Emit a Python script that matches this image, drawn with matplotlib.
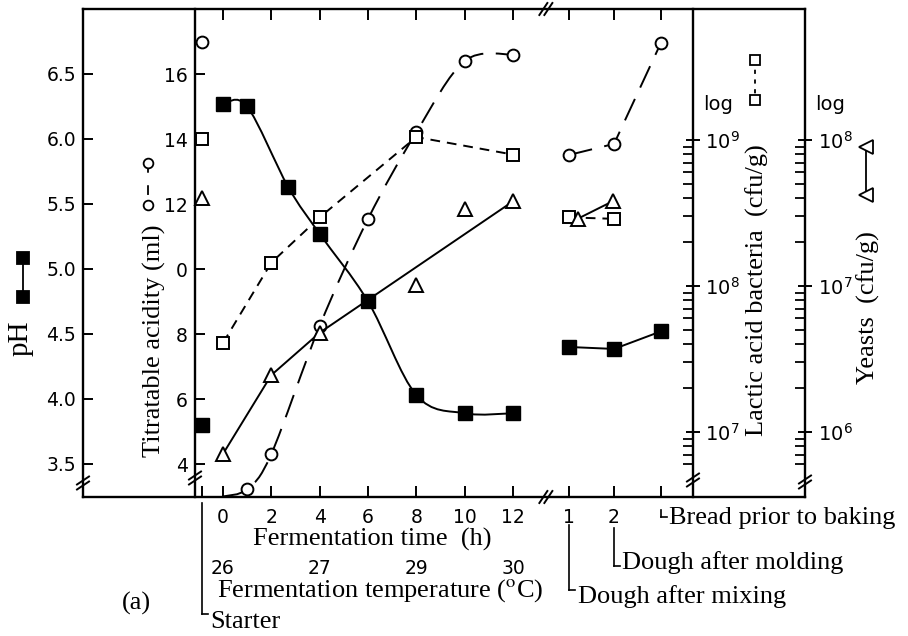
import numpy as np
import matplotlib
matplotlib.use("Agg")
import matplotlib.pyplot as plt
from matplotlib.path import Path
from matplotlib.patches import PathPatch
from matplotlib.lines import Line2D
from matplotlib import transforms, ticker

plt.rcParams["lines.scale_dashes"] = False
plt.rcParams["font.family"] = ["DejaVu Sans"]
plt.rcParams["mathtext.fontset"] = "dejavusans"

SERIF = "Liberation Serif"
SANS = "DejaVu Sans"
TITLE_SIZE = 19

# ---------------- x positions (fermentation time, h) ----------------
time_ticks = [0, 2, 4, 6, 8, 10, 12]
time_labels = ["0", "2", "4", "6", "8", "10", "12"]
starter_pos = -0.87
stage_pos = [14.32, 16.18, 18.12]          # after mixing, after molding, bread
stage_labels = ["1", "2", ""]
temp_times = [0, 4, 8, 12]
temp_labels = ["26", "27", "29", "30"]

# ---------------- pH (filled squares) ----------------
ph_starter = 3.80
ph_time = [0, 1, 2.7, 4, 6, 8, 10, 12]
ph_vals = [6.27, 6.25, 5.63, 5.27, 4.75, 4.03, 3.89, 3.89]
ph_stage = [4.40, 4.385, 4.52]
ph_ticks = [3.5, 4.0, 4.5, 5.0, 5.5, 6.0, 6.5]
ph_ticklabels = ["3.5", "4.0", "4.5", "5.0", "5.5", "6.0", "6.5"]

# ---------------- titratable acidity, ml (open circles) ----------------
ta_starter = 16.98
ta_time = [0, 1, 2, 4, 6, 8, 10, 12]
ta_vals = [3.0, 3.23, 4.31, 8.25, 11.54, 14.21, 16.40, 16.60]
ta_stage = [13.51, 13.85, 16.96]
ta_ticks = [4, 6, 8, 10, 12, 14, 16]
ta_ticklabels = ["4", "6", "8", "0", "12", "14", "16"]

# ---------------- lactic acid bacteria, log10 cfu/g (open squares) ----------------
lab_starter = 9.01
lab_time = [0, 2, 4, 8, 12]
lab_log = [7.61, 8.16, 8.47, 9.02, 8.90]
lab_stage = [8.47, 8.46]

# ---------------- yeasts, log10 cfu/g (open triangles) ----------------
yeast_starter = 7.60
yeast_time = [0, 2, 4, 8, 10, 12]
yeast_log = [5.85, 6.39, 6.68, 7.01, 7.53, 7.58]
yeast_line_idx = [0, 1, 2, 5]               # points joined by the trend line
yeast_stage = [7.46, 7.58]

W, H = 908, 636
def fx(px):
    return px / W
def fy(py):
    return 1 - py / H

fig = plt.figure(figsize=(W / 100, H / 100), dpi=100)
ax = fig.add_axes([fx(83), fy(497), fx(805) - fx(83), fy(9) - fy(497)])

XLIM = (-5.792, 24.08)
TA_SPINE = -1.158
LAB_SPINE = 19.445
BREAK_X = 13.40

LW_SPINE = 1.7
LW_LINE = 1.4

ax.set_xlim(*XLIM)
ax.set_ylim(3.246, 7.0)

ax_ta = ax.twinx()
ax_ta.set_ylim(2.985, 18.0)
ax_lab = ax.twinx()
ax_lab.set_yscale("log")
ax_lab.set_ylim(10 ** 6.555, 10 ** 9.897)
ax_y = ax.twinx()
ax_y.set_yscale("log")
ax_y.set_ylim(10 ** 5.555, 10 ** 8.897)

# ---------------- spines ----------------
for a in (ax, ax_ta, ax_lab, ax_y):
    for s in a.spines.values():
        s.set_visible(False)
        s.set_linewidth(LW_SPINE)
for s in ("left", "top", "bottom"):
    ax.spines[s].set_visible(True)
ax_ta.spines["left"].set_visible(True)
ax_ta.spines["left"].set_position(("data", TA_SPINE))
ax_lab.spines["right"].set_visible(True)
ax_lab.spines["right"].set_position(("data", LAB_SPINE))
ax_y.spines["right"].set_visible(True)

# ---------------- ticks ----------------
ax.set_yticks(ph_ticks)
ax.set_yticklabels(ph_ticklabels)
ax.tick_params(axis="y", direction="in", length=7, width=1.4, labelsize=13.5, pad=5)

ax.set_xticks(time_ticks + stage_pos)
ax.set_xticklabels(time_labels + stage_labels)
ax.set_xticks([starter_pos], minor=True)
ax.tick_params(axis="x", which="both", direction="in", length=8, width=1.4,
               top=True, labelsize=13.5, pad=8)
ax.tick_params(axis="x", which="minor", top=False, labelbottom=False)

ax_ta.yaxis.set_ticks_position("left")
ax_ta.set_yticks(ta_ticks)
ax_ta.set_yticklabels(ta_ticklabels)
ax_ta.tick_params(axis="y", direction="in", length=7, width=1.4, labelsize=13.5, pad=5,
                  left=True, right=False, labelleft=True, labelright=False)

def log_ticks(a, lo_exp, majors):
    a.yaxis.set_major_locator(ticker.FixedLocator([10.0 ** e for e in majors]))
    minors = [k * 10.0 ** e for e in range(lo_exp, majors[-1]) for k in range(2, 10)
              if k * 10.0 ** e >= 6 * 10.0 ** lo_exp]
    a.yaxis.set_minor_locator(ticker.FixedLocator(minors))
    a.yaxis.set_major_formatter(ticker.FuncFormatter(
        lambda v, p: r"$10^{%d}$" % int(round(np.log10(v)))))
    a.yaxis.set_minor_formatter(ticker.NullFormatter())
    a.tick_params(axis="y", which="major", direction="inout", length=10, width=1.4,
                  labelsize=14, pad=4)
    a.tick_params(axis="y", which="minor", direction="in", length=7, width=1.3)

log_ticks(ax_lab, 6, [7, 8, 9])
log_ticks(ax_y, 5, [6, 7, 8])

# ---------------- data ----------------
def smooth_path(xs, ys):
    pts = np.column_stack([xs, ys]).astype(float)
    ext = np.vstack([pts[0], pts, pts[-1]])
    verts, codes = [pts[0]], [Path.MOVETO]
    for i in range(len(pts) - 1):
        p0, p1, p2, p3 = ext[i], ext[i + 1], ext[i + 2], ext[i + 3]
        verts += [p1 + (p2 - p0) / 6, p2 - (p3 - p1) / 6, p2]
        codes += [Path.CURVE4] * 3
    return Path(verts, codes)

LONG_DASH = (0, (17, 9))
SHORT_DASH = (0, (7, 5))

sq = dict(marker="s", ms=9.5, mfc="black", mec="black", ls="none", zorder=5)
ci = dict(marker="o", ms=8.5, mfc="white", mec="black", mew=1.4, ls="none", zorder=5)
osq = dict(marker="s", ms=8.5, mfc="white", mec="black", mew=1.4, ls="none", zorder=5)
tri = dict(marker="^", ms=10, mfc="white", mec="black", mew=1.4, ls="none", zorder=5)

# pH
ax.add_patch(PathPatch(smooth_path(ph_time, ph_vals), fill=False, lw=LW_LINE,
                       ec="black", zorder=3))
ax.plot(stage_pos, ph_stage, color="black", lw=LW_LINE, zorder=3)
ax.plot(ph_time, ph_vals, **sq)
ax.plot(stage_pos, ph_stage, **sq)
ax.plot([starter_pos], [ph_starter], **sq)

# titratable acidity
ax_ta.add_patch(PathPatch(smooth_path(ta_time, ta_vals), fill=False, lw=LW_LINE,
                          ec="black", ls=LONG_DASH, zorder=3))
ax_ta.plot(stage_pos, ta_stage, color="black", lw=LW_LINE, ls=LONG_DASH, zorder=3)
ax_ta.plot(ta_time[1:], ta_vals[1:], **ci)
ax_ta.plot(stage_pos, ta_stage, **ci)
ax_ta.plot([starter_pos], [ta_starter], **ci)

# lactic acid bacteria
lab_t = np.array(lab_time)
lab_v = 10.0 ** np.array(lab_log)
ax_lab.plot(lab_t, lab_v, color="black", lw=LW_LINE, ls=SHORT_DASH, zorder=3)
ax_lab.plot(stage_pos[:2], 10.0 ** np.array(lab_stage), color="black", lw=LW_LINE,
            ls=SHORT_DASH, zorder=3)
ax_lab.plot(lab_t, lab_v, **osq)
ax_lab.plot(stage_pos[:2], 10.0 ** np.array(lab_stage), **osq)
ax_lab.plot([starter_pos], [10.0 ** lab_starter], **osq)

# yeasts
yt = np.array(yeast_time)
yv = 10.0 ** np.array(yeast_log)
yeast_stage_pos = [stage_pos[0] + 0.35, stage_pos[1] - 0.06]
ax_y.plot(yt[yeast_line_idx], yv[yeast_line_idx], color="black", lw=LW_LINE, zorder=3)
ax_y.plot(yeast_stage_pos, 10.0 ** np.array(yeast_stage), color="black", lw=LW_LINE, zorder=3)
ax_y.plot(yt, yv, **tri)
ax_y.plot(yeast_stage_pos, 10.0 ** np.array(yeast_stage), **tri)
ax_y.plot([starter_pos], [10.0 ** yeast_starter], **tri)

# ---------------- axis break marks ----------------
ident = transforms.IdentityTransform()
def break_mark(xd, yd, vertical_spine):
    for off in (-2.5, 2.5):
        if vertical_spine:
            xs = [xd - 6, xd + 6]
            ys = [yd - 4 + off, yd + 4 + off]
        else:
            xs = [xd - 5 + off, xd + 3 + off]
            ys = [yd - 6, yd + 6]
        fig.add_artist(Line2D(xs, ys, color="black", lw=1.4, transform=ident))

def disp(a, x, ypx):
    px = a.transData.transform((x, 1))[0]
    return px, H - ypx

break_mark(*disp(ax, XLIM[0], 483), True)
break_mark(*disp(ax, TA_SPINE, 478), True)
break_mark(*disp(ax, LAB_SPINE, 480), True)
break_mark(*disp(ax, XLIM[1], 482), True)
break_mark(*disp(ax, BREAK_X, 9), False)
break_mark(*disp(ax, BREAK_X, 497), False)

# ---------------- key symbols beside the axis titles ----------------
def key(xpx, ys, marker, ms, mfc, ls):
    fig.add_artist(Line2D([fx(xpx)] * 2, [fy(ys[0]), fy(ys[1])], color="black",
                          lw=1.3, ls=ls, transform=fig.transFigure))
    fig.add_artist(Line2D([fx(xpx)] * 2, [fy(ys[0]), fy(ys[1])], marker=marker, ms=ms,
                          mfc=mfc, mec="black", mew=1.3, ls="none",
                          transform=fig.transFigure))

key(23, (258, 297), "s", 8, "black", "-")
key(148, (163, 205), "o", 7, "white", (0, (7, 9)))
key(755, (60, 100), "s", 6.5, "white", (0, (3, 4)))
key(866, (147, 195), "<", 9.5, "white", "-")

# ---------------- axis titles ----------------
fig.text(fx(21), fy(338), "pH", family=SERIF, size=21, rotation=90,
         ha="center", va="center")
fig.text(fx(154), fy(341), "Titratable acidity (ml)", family=SERIF, size=TITLE_SIZE,
         rotation=90, ha="center", va="center")
fig.text(fx(757), fy(290), "Lactic acid bacteria  (cfu/g)", family=SERIF,
         size=TITLE_SIZE, rotation=90, ha="center", va="center")
fig.text(fx(868), fy(308), "Yeasts  (cfu/g)", family=SERIF, size=TITLE_SIZE,
         rotation=90, ha="center", va="center")
fig.text(fx(718), fy(105), "log", family=SANS, size=14, ha="center", va="center")
fig.text(fx(830), fy(105), "log", family=SANS, size=14, ha="center", va="center")

fig.text(fx(372), fy(539), "Fermentation time  (h)", family=SERIF, size=TITLE_SIZE,
         ha="center", va="center")
fig.text(fx(380), fy(591), "Fermentation temperature ($^{\\rm o}$C)", family=SERIF,
         size=TITLE_SIZE, ha="center", va="center", math_fontfamily="stix")
fig.text(fx(122), fy(603), "(a)", family=SERIF, size=TITLE_SIZE, ha="left", va="center")

# temperature scale under the time axis
bt = transforms.blended_transform_factory(ax.transData, fig.transFigure)
for t, lab in zip(temp_times, temp_labels):
    ax.text(t, fy(568), lab, transform=bt, family=SANS, size=13.5, ha="center",
            va="center")

# sample-stage call-outs
def callout(xd, ytop, ybot, text, ytext):
    ax.add_artist(Line2D([xd, xd], [fy(ytop), fy(ybot)], color="black", lw=1.2,
                         transform=bt, clip_on=False))
    x_end = ax.transData.inverted().transform(
        (ax.transData.transform((xd, 1))[0] + 6, 0))[0]
    ax.add_artist(Line2D([xd, x_end], [fy(ybot), fy(ybot)], color="black", lw=1.2,
                         transform=bt, clip_on=False))
    ax.text(x_end + 0.1, fy(ytext), text, transform=bt, family=SERIF, size=TITLE_SIZE,
            ha="left", va="center")

callout(starter_pos, 503, 614, "Starter", 622)
callout(stage_pos[0], 525, 590, "Dough after mixing", 597)
callout(stage_pos[1], 528, 566, "Dough after molding", 563)
callout(stage_pos[2], 510, 517, "Bread prior to baking", 518)

fig.savefig("out.png", dpi=100)
